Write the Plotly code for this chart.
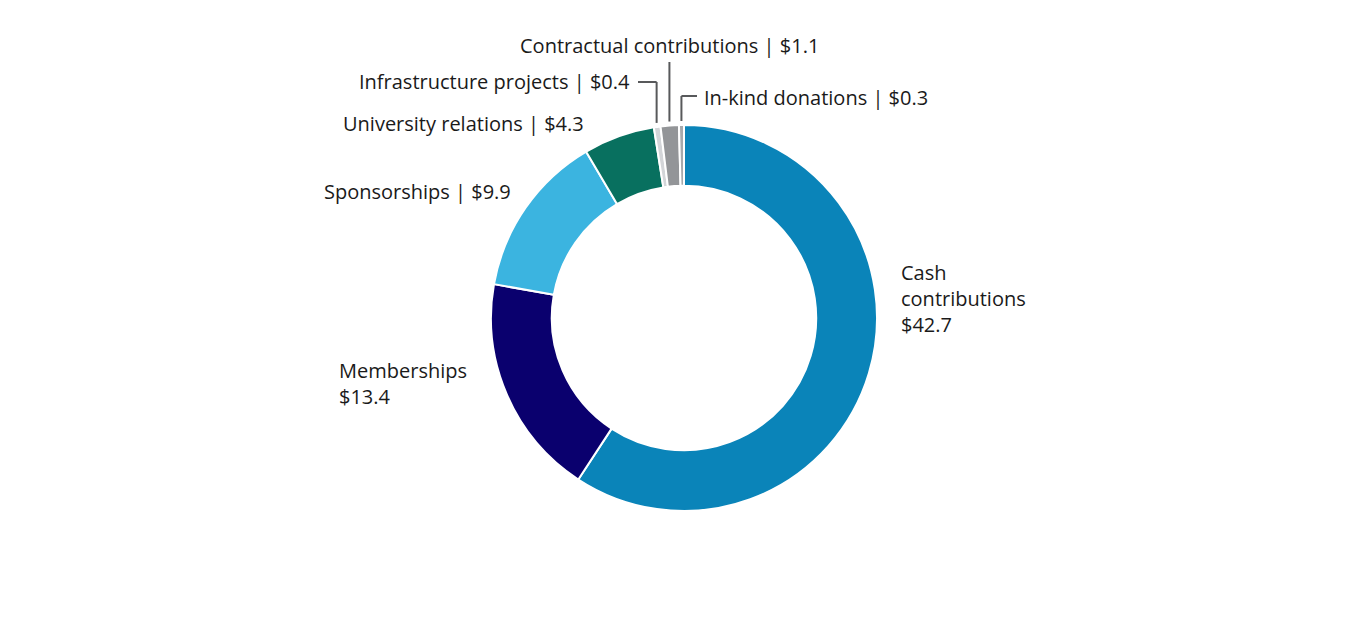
import math
import plotly.graph_objects as go

# ---- data ----
categories = ["Cash contributions", "Memberships", "Sponsorships", "University relations",
              "Infrastructure projects", "Contractual contributions", "In-kind donations"]
values = [42.7, 13.4, 9.9, 4.3, 0.4, 1.1, 0.3]
colors = ["#0a84b9", "#0a006e", "#3bb4e0", "#08705f", "#d3d5d8", "#939598", "#a7a9ac"]

W, H = 1368, 636
OFF = 8  # page body margin
CX, CY, R = 684, 318, 193
HOLE = 0.685

def px(x):
    return (x - OFF) / W

def py(y):
    return 1 - (y - OFF) / H

fig = go.Figure(go.Pie(
    labels=categories, values=values, sort=False, direction="clockwise", rotation=0,
    hole=HOLE, marker=dict(colors=colors, line=dict(color="white", width=2)),
    textinfo="none", hoverinfo="label+value", showlegend=False,
    domain=dict(x=[px(CX - R), px(CX + R)], y=[py(CY + R), py(CY - R)]),
))

total = sum(values)
def mid_point(i, r):
    before = sum(values[:i])
    ang = (before + values[i] / 2) / total * 2 * math.pi
    return CX + r * math.sin(ang), CY - r * math.cos(ang)

font = dict(family="Open Sans, Arial, sans-serif", size=20, color="#1a1a1a")
ann = []
def label(text, x, y, xanchor="left", yanchor="middle", align="left"):
    ann.append(dict(text=text, x=px(x), y=py(y), xref="paper", yref="paper",
                    xanchor=xanchor, yanchor=yanchor, align=align, showarrow=False, font=font))

fmt = lambda v: f"${v}"
label(f"{categories[0].split()[0]}<br>{categories[0].split()[1]}<br>{fmt(values[0])}", 899, 299)
label(f"{categories[1]}<br>{fmt(values[1])}", 337, 383)
label(f"{categories[2]} | {fmt(values[2])}", 513, 192, xanchor="right")
label(f"{categories[3]} | {fmt(values[3])}", 586, 123, xanchor="right")
label(f"{categories[4]} | {fmt(values[4])}", 632, 82, xanchor="right")
label(f"{categories[5]} | {fmt(values[5])}", 821, 46, xanchor="right")
label(f"{categories[6]} | {fmt(values[6])}", 702, 97)

shapes = []
lc = dict(color="#58595b", width=2)
def seg(x0, y0, x1, y1):
    shapes.append(dict(type="line", xref="paper", yref="paper",
                       x0=px(x0), y0=py(y0), x1=px(x1), y1=py(y1), line=lc))

# Infrastructure leader
x4, y4 = mid_point(4, R + 4)
seg(x4, y4, x4, 82); seg(x4, 82, 638, 82)
# Contractual leader
x5, y5 = mid_point(5, R + 4)
seg(x5, y5, x5, 62)
# In-kind leader
x6, y6 = mid_point(6, R + 4)
seg(x6, y6, x6, 96); seg(x6, 96, 697, 96)

fig.update_layout(width=W, height=H, margin=dict(l=0, r=0, t=0, b=0),
                  paper_bgcolor="white", plot_bgcolor="white",
                  annotations=ann, shapes=shapes)
fig.write_html("out.html")
